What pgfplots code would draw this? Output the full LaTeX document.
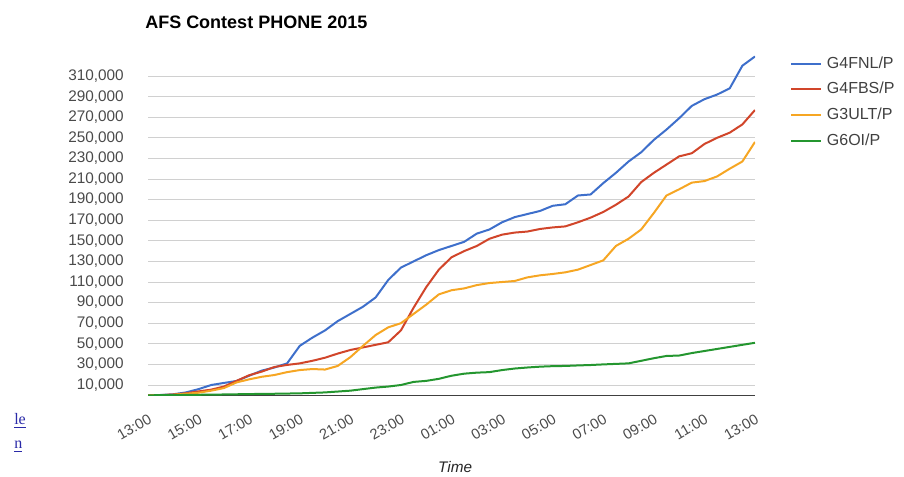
\documentclass[border=0pt]{standalone}
\usepackage{pgfplots}
\pgfplotsset{compat=1.18}
\usepackage{fontspec}
\setmainfont{Liberation Sans}
\newfontfamily\linkfont{Liberation Serif}

\definecolor{cBlue}{HTML}{3E6FCB}
\definecolor{cRed}{HTML}{D1452A}
\definecolor{cYellow}{HTML}{F6A623}
\definecolor{cGreen}{HTML}{24962F}
\definecolor{cGrid}{HTML}{D0D0D0}
\definecolor{cTick}{HTML}{4A4A4A}
\definecolor{cLink}{HTML}{2A2AA8}

\begin{document}
\begin{tikzpicture}
\useasboundingbox (0,0) rectangle (678pt,357.75pt);
% left-over page links
\node[anchor=base west, inner sep=0, text=cLink, font=\linkfont\fontsize{12}{14}\selectfont] at (10.5pt,39pt) {\underline{le}};
\node[anchor=base west, inner sep=0, text=cLink, font=\linkfont\fontsize{12}{14}\selectfont] at (10.5pt,21pt) {\underline{n}};
% title
\node[anchor=base west, inner sep=0, font=\bfseries\fontsize{13.5}{16}\selectfont] at (108.75pt,336pt) {AFS Contest PHONE 2015};

\begin{axis}[
  at={(111pt,61.27pt)}, anchor=south west,
  scale only axis,
  width=455.25pt, height=254.9pt,
  xmin=0, xmax=24,
  ymin=0, ymax=330000,
  xtick={0,2,...,24},
  xticklabels={13:00,15:00,17:00,19:00,21:00,23:00,01:00,03:00,05:00,07:00,09:00,11:00,13:00},
  ytick={10000,30000,...,310000},
  scaled y ticks=false,
  /pgf/number format/assume math mode=true,
  /pgf/number format/fixed,
  /pgf/number format/1000 sep={,},
  ymajorgrids,
  grid style={cGrid, line width=0.75pt},
  axis lines*=left,
  y axis line style={draw=none},
  x axis line style={draw=black!75, line width=0.75pt},
  tick style={draw=none},
  ticklabel style={font=\fontsize{11.5}{13}\selectfont, text=cTick},
  yticklabel style={anchor=east, inner sep=0pt, xshift=-18pt},
  xticklabel style={rotate=30, anchor=north east, inner sep=0pt, xshift=-7pt, yshift=-11.5pt,
    font=\fontsize{11}{13}\selectfont},
  xlabel={Time},
  xlabel style={at={(axis description cs:0.506,-0.2286)}, anchor=base, inner sep=0pt,
    font=\itshape\fontsize{11.5}{13}\selectfont, text=black!85},
  legend style={draw=none, fill=none, at={(rel axis cs:1.0577,1.005)}, anchor=north west,
    inner sep=0pt, row sep=4.8pt, column sep=2pt,
    font=\fontsize{12}{14}\selectfont, text=black!75,
    nodes={inner sep=2pt, text height=8.5pt, text depth=2pt}},
  legend cell align=left,
  legend image code/.code={\draw[#1] (0pt,0pt) -- (22pt,0pt);},
  every axis plot/.append style={line width=1.5pt, line join=round, no markers},
]
% G4FNL/P
\addplot[cBlue] coordinates {
(0,0) (0.5,300) (1,1000) (1.5,2800) (2,6000) (2.5,10000) (3,12000) (3.5,13900)
(4,19000) (4.5,24000) (5,27000) (5.5,31000) (6,48000) (6.5,56000) (7,63000)
(7.5,72000) (8,79000) (8.5,86000) (9,95000) (9.5,112000) (10,124000) (10.5,130000)
(11,136000) (11.5,141000) (12,145000) (12.5,149000) (13,157000) (13.5,161000)
(14,168000) (14.5,173000) (15,176000) (15.5,179000) (16,184000) (16.5,185500)
(17,194000) (17.5,195000) (18,206000) (18.5,216000) (19,227000) (19.5,236000)
(20,248000) (20.5,258000) (21,269000) (21.5,281000) (22,287500) (22.5,292000)
(23,298000) (23.5,320000) (24,329000)};
% G4FBS/P
\addplot[cRed] coordinates {
(0,0) (0.5,200) (1,800) (1.5,2000) (2,3800) (2.5,5500) (3,8500) (3.5,14000)
(4,19500) (4.5,23000) (5,27500) (5.5,29500) (6,31000) (6.5,33500) (7,36500)
(7.5,40500) (8,44000) (8.5,46500) (9,49000) (9.5,51500) (10,63000) (10.5,85000)
(11,105000) (11.5,122000) (12,134000) (12.5,140000) (13,145000) (13.5,152000)
(14,156000) (14.5,158000) (15,159000) (15.5,161500) (16,163000) (16.5,164000)
(17,168000) (17.5,172500) (18,178000) (18.5,185000) (19,193000) (19.5,207000)
(20,216000) (20.5,224000) (21,232000) (21.5,235000) (22,244000) (22.5,250000)
(23,255000) (23.5,263000) (24,277000)};
% G3ULT/P
\addplot[cYellow] coordinates {
(0,0) (0.5,100) (1,500) (1.5,1500) (2,2500) (2.5,4500) (3,7000) (3.5,12500)
(4,15500) (4.5,18000) (5,19700) (5.5,22500) (6,24500) (6.5,25500) (7,25000)
(7.5,28500) (8,37000) (8.5,48000) (9,58500) (9.5,66000) (10,70000) (10.5,79000)
(11,88000) (11.5,98000) (12,102000) (12.5,103800) (13,107000) (13.5,109000)
(14,110000) (14.5,111000) (15,114500) (15.5,116500) (16,117800) (16.5,119400)
(17,122000) (17.5,126500) (18,131000) (18.5,145000) (19,152000) (19.5,161000)
(20,177000) (20.5,194000) (21,200000) (21.5,206500) (22,208000) (22.5,212500)
(23,220000) (23.5,227000) (24,246000)};
% G6OI/P
\addplot[cGreen] coordinates {
(0,0) (1,200) (2,500) (3,800) (4,1200) (5,1500) (6,1900) (7,2800) (8,4500)
(9,7500) (9.5,8500) (10,10000) (10.5,13000) (11,14000) (11.5,16000) (12,19000)
(12.5,21000) (13,22000) (13.5,22500) (14,24500) (14.5,26000) (15,27000)
(15.5,27800) (16,28300) (16.5,28500) (17,29000) (17.5,29400) (18,30000)
(18.5,30500) (19,31000) (19.5,33500) (20,36000) (20.5,38200) (21,38600)
(21.5,41000) (22,43000) (22.5,45000) (23,47000) (23.5,49000) (24,51000)};
\legend{G4FNL/P,G4FBS/P,G3ULT/P,G6OI/P}
\end{axis}
\end{tikzpicture}
\end{document}
